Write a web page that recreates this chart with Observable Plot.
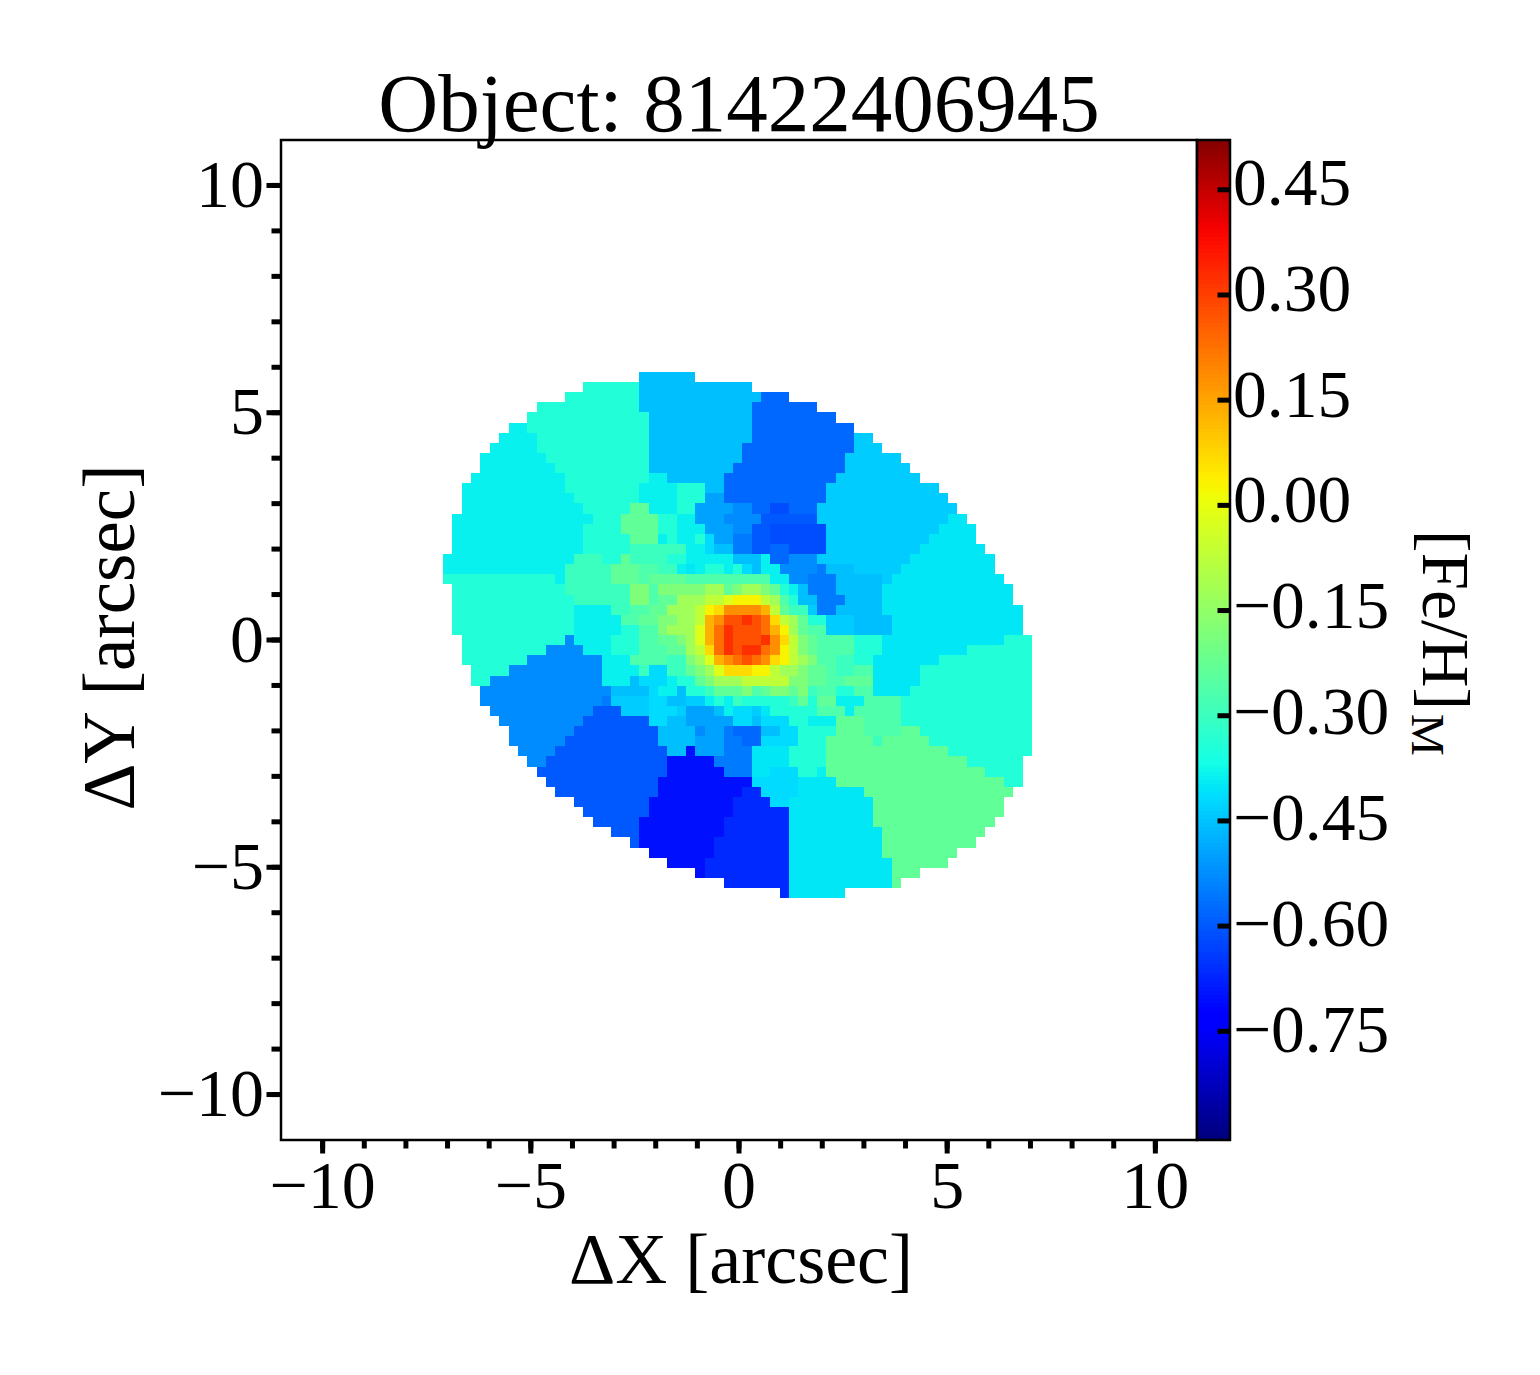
<!DOCTYPE html>
<html>
<head>
<meta charset="utf-8">
<script src="https://cdn.jsdelivr.net/npm/d3@7"></script>
<script src="https://cdn.jsdelivr.net/npm/@observablehq/plot@0.6"></script>
<style>
  html, body { margin: 0; background: white; overflow: hidden; }
  #chart { position: relative; width: 1540px; height: 1375px; }
  #chart svg { position: absolute; left: 0; top: 0; }
</style>
</head>
<body>
<div id="chart"></div>
<script>
// [Fe/H], one letter per colour level
const levelKeys = "abcdefghijklmnopqrstuvwxyzAB".split("")
const levelValues = [-0.705, -0.67, -0.62, -0.604, -0.581, -0.555, -0.531, -0.5, -0.459, -0.441, -0.42, -0.403, -0.39,
  -0.346, -0.302, -0.27, -0.238, -0.185, -0.128, -0.074, -0.021, 0.023, 0.066, 0.127, 0.18, 0.227, 0.273, 0.32]

// spaxel grid, top row first: "15n21i33" = columns 15-20 level n, 21-32 level i
const rowRuns = [
  "21i27",
  "15n21i33",
  "13n21i34e37",
  "10n21i33e40",
  "9n22i33e42",
  "7m9n22i33e44",
  "6m10n22i33e44j46",
  "5m10n22i32e44j47",
  "4m11n22i32e43j49",
  "4m12n22i31e43j50",
  "3m13n22m24i30e42j51",
  "2m13n21m25n28i30e41j53",
  "2m14n21m25n28h30e41j54",
  "2m15n20q22m25n27h31g33e35c37e40j55",
  "1m16n19q23n25m27h30g34d40j54l56",
  "1m15n19q23n25m28h31g33d35c41j53l57",
  "1m15n20q23m24n25m27n28k29h31f33d35c41j52l57",
  "1m15n20o26m28k29i31f33d35e37c41j51l58",
  "0m14o17n19q20o24n26m31i34m35e37g40j50l59",
  "0m13o18q21p23o25m26l27m28n30m31n32k33i34m36g40f41i44j49l59",
  "0n12m13o18q21p22q26p35m37g39f42i47j48l60",
  "1n13o20r22p23r28s30q31r32s34r35q36n37m38i39f42i47l61",
  "1n14o20r22p23q25s28t30u31v34t35s36p37n38i40f43i47l61",
  "1n14m18o20p22q24s27t28v29w30y34x35t36q37o39j40f42i47l62",
  "1n14m19p21q23r25s27t28x29y30A32B33A34z35w36t37s38q39n41j44i48l62",
  "1n14m19n21p23r24s27u28x29z30B31A34z35x36v37s38q39p41j44i48l62",
  "2n13g14m18n21p23q25r26s27u28x29z30B31A34B35y36w37t38r39q40p44n47l60n63",
  "2n11g15m18n21p24q26s27t28w29z30B31A32B34z35y36v37t38r39q40p44n47l56n63",
  "2n9g17m20p24o26r27s28u29x30y31z32A33z34y35w36v37t38s39r40p42o44n46l53n63",
  "3n7g17m21o22k24o26q27r28s29u30w33v35t36s38r39q41p42o44p46l51n63",
  "3n5g17m20i21k24m25n27q28r29s32t37r39q41p43q46l51n63",
  "4g18i22k23m25i26n28o29q32r33p34q35r37q38r39o40p42n44p46l50n63",
  "4g17f18j22k24i26j28m29n30m31o32n37o38q39n40q42m45p49n63",
  "5g16d19j22k25j26h29i30m31k33j34l35n40p43m44p49n63",
  "6g15d22k24i26h31k33i34k37n39m42q45p49n63",
  "7g14d23i27g28h30f31e34i36k38n42q45p49q51n63",
  "7g13d23i27h30f32e34k38n41q46o47q52n63",
  "8g12d24i26a27h30f33l37n41q54n63",
  "9g11d24a29f33l37n41q56n62",
  "10d24a30f33l35k38n40m41q58n62",
  "11d23a33k38l42q60n62",
  "12d23a32b34k38l45q61",
  "14d22a31b35k37l46q60",
  "15d22a31b37l46q60",
  "16d21a30b37l46q59",
  "18d21a30b37l47q58",
  "20d21a29b37l47q57",
  "22a29b37l47q55",
  "24a28b37l48q54",
  "27a28b37l48q51",
  "30b37l48q49",
  "36b37l43"
]

// grid position in arcsec
const gridLeft = -7.095
const gridTop = 5.886
const gridDx = 0.2245
const gridDy = 0.2226

const xyMajor = [-10, -5, 0, 5, 10]
const xyMinor = [-10, -9, -8, -7, -6, -5, -4, -3, -2, -1, 0, 1, 2, 3, 4, 5, 6, 7, 8, 9, 10]
const barTicks = [0.45, 0.30, 0.15, 0.00, -0.15, -0.30, -0.45, -0.60, -0.75]
const barLabelDy = [-6, -5.5, -5, -4.5, -4, -3, -2.5, -2, -1]
const barDomain = [-0.905, 0.521]

// matplotlib jet
const jetStops = [0, 0.11, 0.125, 0.34, 0.35, 0.375, 0.64, 0.65, 0.66, 0.89, 0.91, 1]
const jetColors = ["#00007f", "#0000ff", "#0000ff", "#00dbff", "#00e5f7", "#14ffe6", "#eeff08", "#f7f500", "#ffee00", "#ff1200", "#f50000", "#7f0000"]

const jet = d3.scaleLinear().domain(jetStops).range(jetColors).interpolate(d3.interpolateRgb)
const minus = d => (d < 0 ? "\u2212" : "") + Math.abs(d)
const fixed2 = d => (d < 0 ? "\u2212" : "") + Math.abs(d).toFixed(2)

const cells = []
rowRuns.forEach((row, j) => {
  const parts = row.match(/\d+|[a-zA-Z]/g)
  for (let i = 0; i + 2 < parts.length; i += 2) {
    for (let k = +parts[i]; k < +parts[i + 2]; k++) {
      cells.push({col: k, row: j, v: levelValues[levelKeys.indexOf(parts[i + 1])]})
    }
  }
})

const font = "Liberation Serif"
const colorScale = {type: "linear", domain: barDomain, interpolate: t => jet(t)}

const map = Plot.plot({
  width: 1540,
  height: 1375,
  marginLeft: 280.5,
  marginRight: 343.5,
  marginTop: 139.5,
  marginBottom: 235.5,
  x: {domain: [-11, 11]},
  y: {domain: [-11, 11]},
  color: colorScale,
  style: {fontFamily: font, background: "white", color: "black"},
  marks: [
    Plot.rect(cells, {
      x1: d => gridLeft + d.col * gridDx,
      x2: d => gridLeft + (d.col + 1) * gridDx,
      y1: d => gridTop - d.row * gridDy,
      y2: d => gridTop - (d.row + 1) * gridDy,
      fill: "v",
      shapeRendering: "crispEdges"
    }),
    Plot.axisX(xyMinor, {anchor: "bottom", tickSize: 9, strokeWidth: 5, tickFormat: () => "", label: null}),
    Plot.axisY(xyMinor, {anchor: "left", tickSize: 9, strokeWidth: 5, tickFormat: () => "", label: null}),
    Plot.axisX(xyMajor, {anchor: "bottom", tickSize: 14, tickPadding: 6, strokeWidth: 5, fontSize: 68, tickFormat: minus, label: null}),
    Plot.axisY(xyMajor, {anchor: "left", tickSize: 14, tickPadding: 3, strokeWidth: 5, fontSize: 68, tickFormat: minus, label: null}),
    Plot.frame({stroke: "black", strokeWidth: 2.5}),
    Plot.text(["Object: 81422406945"], {frameAnchor: "top", lineAnchor: "bottom", dy: -9, fontSize: 83}),
    Plot.text(["\u0394X [arcsec]"], {frameAnchor: "bottom", lineAnchor: "top", dy: 92, dx: 2, fontSize: 72}),
    Plot.text(["\u0394Y [arcsec]"], {frameAnchor: "left", textAnchor: "middle", rotate: -90, dx: -170, dy: -2.5, fontSize: 73})
  ]
})

const barLevels = d3.range(256).map(i => barDomain[0] + (i / 256) * (barDomain[1] - barDomain[0]))
const barStep = (barDomain[1] - barDomain[0]) / 256

const bar = Plot.plot({
  width: 1540,
  height: 1375,
  marginLeft: 1196.5,
  marginRight: 310.5,
  marginTop: 139.5,
  marginBottom: 235.5,
  x: {domain: [0, 1], axis: null},
  y: {domain: barDomain, axis: null},
  color: colorScale,
  style: {fontFamily: font, background: "transparent", color: "black"},
  marks: [
    Plot.rect(barLevels, {x1: 0, x2: 1, y1: d => d, y2: d => d + barStep, fill: d => d, shapeRendering: "crispEdges"}),
    Plot.axisY(barTicks, {anchor: "right", tickSize: -13, strokeWidth: 5, tickFormat: () => "", label: null}),
    ...barTicks.map((d, i) => Plot.text([d], {y: d => d, frameAnchor: "right", textAnchor: "start", dx: 3, dy: barLabelDy[i], fontSize: 67.5, text: fixed2})),
    Plot.frame({stroke: "black", strokeWidth: 2.5}),
    Plot.text(["[Fe/H]"], {frameAnchor: "right", textAnchor: "start", rotate: 90, dx: 215, dy: -110, fontSize: 67.5}),
    Plot.text(["M"], {frameAnchor: "right", textAnchor: "start", rotate: 90, dx: 197, dy: 74, fontSize: 47})
  ]
})

document.getElementById("chart").append(map, bar)
</script>
</body>
</html>
